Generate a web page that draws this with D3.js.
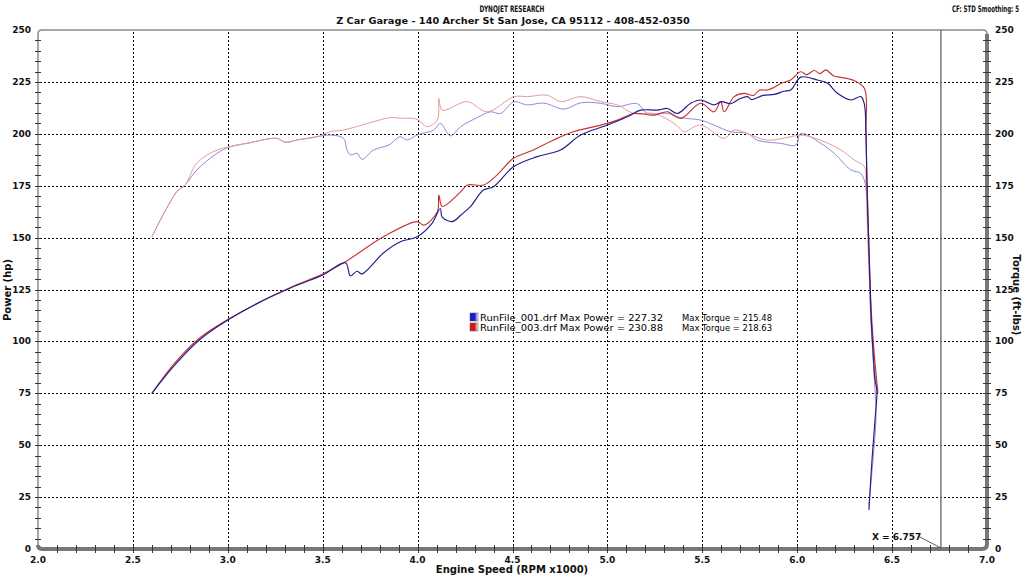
<!DOCTYPE html>
<html><head><meta charset="utf-8">
<script src="https://cdn.jsdelivr.net/npm/d3@7"></script>
<style>body{margin:0;background:#fff}svg{display:block}</style>
</head><body>
<svg id="c" width="1024" height="575"></svg>
<script>
// ---- data ----
const xTickLabels = [2.0,2.5,3.0,3.5,4.0,4.5,5.0,5.5,6.0,6.5,7.0];
const yTickLabels = [0,25,50,75,100,125,150,175,200,225,250];
const cursorRpm = 6.757;

const p1Rpm = [2.60,2.72,2.85,3.00,3.17,3.33,3.50,3.62,3.646,3.681,3.707,3.82,3.909,3.997,4.076,4.12,4.129,4.182,4.23,4.278,4.347,4.40,4.505,4.63,4.753,4.859,5.00,5.105,5.175,5.263,5.316,5.369,5.439,5.492,5.562,5.60,5.65,5.70,5.738,5.76,5.82,5.88,5.93,5.966,6.019,6.107,6.16,6.212,6.283,6.335,6.353,6.362,6.367,6.378,6.388,6.399,6.41,6.42,6.41,6.394,6.378];
const p1Hp  = [75,88.6,100.7,110.3,119,125.7,132,137.9,131.5,133.8,132.5,142.6,148,150.4,156.9,164,160,157.7,161,164.9,172.9,174.5,184.1,189,192.2,199.4,204.2,208.2,211.4,211.4,212.2,209.8,214.7,216.3,213.9,215.5,214.5,217,217.9,216.5,218.5,219,220.5,221.1,227.3,225.9,224.3,219.5,216.3,217.9,214.7,201.8,177.7,144,115.1,95.9,81.4,76.6,62.1,42.9,18.8];

const p3Rpm = [2.60,2.72,2.85,3.00,3.17,3.33,3.50,3.62,3.82,3.997,4.033,4.104,4.112,4.13,4.226,4.262,4.348,4.419,4.505,4.61,4.716,4.821,4.965,5.053,5.139,5.245,5.316,5.386,5.492,5.562,5.597,5.615,5.668,5.72,5.77,5.80,5.843,5.87,5.92,5.966,6.019,6.05,6.09,6.12,6.151,6.19,6.23,6.27,6.301,6.354,6.362,6.37,6.38,6.39,6.405,6.42,6.425];
const p3Hp  = [75,89.5,101.5,110.5,119,126,132.5,138.4,150.4,157.7,156,162.5,170.5,165,172,175.3,175.3,180.2,188.2,192.2,197,201,204.2,206.6,209.8,209,210.6,207.4,214.7,210.6,215.5,210.6,217.9,219.5,218.5,221,221.1,222,224.5,225.9,229.9,228.5,230.5,229,230.8,228,227.2,226.5,225.6,221.9,200,170,140,115,95,80,75];

const t1Rpm = [2.60,2.732,2.775,2.837,2.943,3.013,3.101,3.259,3.303,3.364,3.47,3.54,3.61,3.628,3.646,3.681,3.707,3.768,3.848,3.909,3.945,3.997,4.085,4.12,4.173,4.226,4.314,4.384,4.437,4.507,4.578,4.665,4.771,4.859,4.964,5.052,5.158,5.21,5.316,5.386,5.492,5.562,5.65,5.738,5.791,5.913,5.993,6.019,6.124,6.195,6.283,6.335,6.362,6.367,6.378,6.388,6.404,6.415,6.399,6.378];
const t1Tq  = [150.4,172.2,175.3,182.6,190.6,193.8,195.4,197.8,195.9,197,198.6,199.4,197.8,192.2,189.8,190.6,187.7,192.2,194.6,198.6,197,199.4,201.8,205,199,203.4,207.8,210.6,209.8,215.4,213.9,214.8,211.9,214.9,214.7,213.1,214.5,209.8,209.8,207.8,206.6,204.2,201,200.2,196.9,195.4,194.6,200.2,195.4,190.6,182.6,180.9,174.5,168,139,110,86,63.6,42.9,21];

const t3Rpm = [2.60,2.732,2.775,2.837,2.943,3.013,3.101,3.259,3.303,3.364,3.47,3.54,3.61,3.752,3.857,3.909,3.997,4.033,4.05,4.104,4.112,4.13,4.262,4.367,4.508,4.578,4.683,4.753,4.859,4.964,5.052,5.139,5.245,5.351,5.386,5.404,5.492,5.615,5.668,5.756,5.843,5.966,6.019,6.124,6.23,6.301,6.354,6.362,6.37,6.38,6.39,6.405,6.42];
const t3Tq  = [150.4,172.2,175.3,185.9,192.2,193.8,195.4,197.8,195.9,197,198.6,201,201.8,205.4,207.8,207.5,207,204.2,203.4,206.6,217,211.4,215.5,210.6,217.9,217.9,218.6,215.5,217.9,215.5,213.9,209.8,209.8,205,202.2,201,204.2,197.8,201.8,199.4,196.9,198.6,199.4,196.9,192.2,187.4,184.1,175,155,130,110,90,75];

const legendRows = [
  {file:"RunFile_001.drf", power:"227.32", torque:"215.48", c1:"#1a1ad0"},
  {file:"RunFile_003.drf", power:"230.88", torque:"218.63", c1:"#d01a1a"}
];

// ---- drawing ----
const svg = d3.select("#c");
const X0 = 38, X1 = 987, Y0 = 549, Y1 = 30;
const x = d3.scaleLinear().domain([2,7]).range([X0,X1]);
const y = d3.scaleLinear().domain([0,250]).range([Y0,Y1]);
const FONT = "'DejaVu Sans', Verdana, sans-serif";
const NARROW = "'DejaVu Sans Condensed', 'Liberation Sans Narrow', sans-serif";

// grid
const grid = svg.append("g").attr("stroke","#000").attr("stroke-width",1).attr("stroke-dasharray","2,2");
xTickLabels.filter(v=>v>2&&v<7).forEach(v=>{
  grid.append("line").attr("x1",Math.round(x(v))+0.5).attr("x2",Math.round(x(v))+0.5).attr("y1",Y1+2).attr("y2",Y0-2);
});
yTickLabels.filter(v=>v>0&&v<250).forEach(v=>{
  grid.append("line").attr("y1",Math.round(y(v))+0.5).attr("y2",Math.round(y(v))+0.5).attr("x1",X0+2).attr("x2",X1-2);
});

// frame: thin top/left rounded, thick bottom/right
svg.append("path")
  .attr("d",`M${X0},${Y0-4} L${X0},${Y1+4} Q${X0},${Y1} ${X0+4},${Y1} L${X1-4},${Y1} Q${X1},${Y1} ${X1},${Y1+4}`)
  .attr("fill","none").attr("stroke","#8a8a8a").attr("stroke-width",1.5);
svg.append("path")
  .attr("d",`M${X0},${Y0-4} Q${X0},${Y0} ${X0+5},${Y0} L${X1-5},${Y0} Q${X1},${Y0} ${X1},${Y0-5} L${X1},${Y1+4}`)
  .attr("fill","none").attr("stroke","#777").attr("stroke-width",4);

// cursor line
svg.append("line").attr("x1",x(cursorRpm)).attr("x2",x(cursorRpm)).attr("y1",Y1).attr("y2",Y0)
  .attr("stroke","#777").attr("stroke-width",1.5);

// minor ticks
const tk = svg.append("g").attr("stroke","#333").attr("stroke-width",1);
d3.range(1,50).forEach(i=>{
  const xv = Math.round(x(2+i*0.1))+0.5;
  tk.append("line").attr("x1",xv).attr("x2",xv).attr("y1",Y0-4).attr("y2",Y0+4);
});
d3.range(1,50).forEach(i=>{
  const yv = Math.round(y(i*5))+0.5;
  tk.append("line").attr("x1",X0-3).attr("x2",X0+3).attr("y1",yv).attr("y2",yv);
  tk.append("line").attr("x1",X1-4).attr("x2",X1+4).attr("y1",yv).attr("y2",yv);
});

// tick labels
const lab = svg.append("g").attr("font-family",FONT).attr("font-size",9).attr("font-weight","bold").attr("fill","#111");
yTickLabels.forEach(v=>{
  lab.append("text").attr("x",31).attr("y",y(v)+3).attr("text-anchor","end").text(v);
  lab.append("text").attr("x",995).attr("y",y(v)+3).attr("text-anchor","start").text(v);
});
xTickLabels.forEach(v=>{
  lab.append("text").attr("x",x(v)).attr("y",563).attr("text-anchor","middle").text(v.toFixed(1));
});

// axis titles
svg.append("text").attr("transform","translate(11,290) rotate(-90)").attr("text-anchor","middle")
  .attr("font-family",FONT).attr("font-size",10).attr("font-weight","bold").attr("fill","#111").text("Power (hp)");
svg.append("text").attr("transform","translate(1013,295) rotate(90)").attr("text-anchor","middle")
  .attr("font-family",FONT).attr("font-size",10).attr("font-weight","bold").attr("fill","#111").text("Torque (ft-lbs)");
svg.append("text").attr("x",512).attr("y",573).attr("text-anchor","middle")
  .attr("font-family",FONT).attr("font-size",10).attr("font-weight","bold").attr("fill","#111").text("Engine Speed (RPM x1000)");

// titles (horizontally squeezed to mimic the narrow dyno font)
function narrowText(txt, cx, cy, width, anchor){
  const t = svg.append("text").attr("font-family",NARROW).attr("font-weight","bold")
    .attr("font-size",9).attr("fill","#111").attr("text-anchor",anchor).text(txt);
  const w = t.node().getComputedTextLength();
  const s = width / w;
  t.attr("transform",`translate(${cx},${cy}) scale(${s},1)`);
}
narrowText("DYNOJET RESEARCH", 512, 12, 65, "middle");
narrowText("Z Car Garage - 140 Archer St San Jose, CA 95112 - 408-452-0350", 513, 24, 354, "middle");
narrowText("CF: STD  Smoothing: 5", 1019, 12, 67, "end");

// series
const line = d3.line().x(d=>x(d[0])).y(d=>y(d[1])).curve(d3.curveCatmullRom.alpha(0.5));
const zip = (a,b)=>a.map((v,i)=>[v,b[i]]);
const series = [
  {r:t1Rpm, v:t1Tq, c:"#8c8cdc", w:1},
  {r:t3Rpm, v:t3Tq, c:"#e89a9a", w:1},
  {r:p3Rpm, v:p3Hp, c:"#c83232", w:1.15},
  {r:p1Rpm, v:p1Hp, c:"#1e1e8c", w:1.15}
];
series.forEach(s=>{
  svg.append("path").datum(zip(s.r,s.v)).attr("d",line).attr("fill","none")
    .attr("stroke",s.c).attr("stroke-width",s.w).attr("stroke-linejoin","round");
});

// legend
const defs = svg.append("defs");
legendRows.forEach((r,i)=>{
  const g = defs.append("linearGradient").attr("id","lg"+i).attr("x1","0").attr("x2","1").attr("y1","0").attr("y2","0");
  g.append("stop").attr("offset","0").attr("stop-color",r.c1);
  g.append("stop").attr("offset","0.6").attr("stop-color",r.c1);
  g.append("stop").attr("offset","1").attr("stop-color","#fff");
  const yy = 313 + i*10;
  svg.append("rect").attr("x",470).attr("y",yy).attr("width",8).attr("height",8).attr("fill","url(#lg"+i+")").attr("stroke","#555").attr("stroke-width",0.5);
  svg.append("text").attr("x",480).attr("y",yy+7.5).attr("font-family",FONT).attr("font-size",9.5).attr("fill","#000")
    .attr("textLength",183).attr("lengthAdjust","spacingAndGlyphs")
    .text(`${r.file} Max Power = ${r.power}`);
  svg.append("text").attr("x",682).attr("y",yy+7.5).attr("font-family",FONT).attr("font-size",9.5).attr("fill","#000")
    .attr("textLength",90).attr("lengthAdjust","spacingAndGlyphs")
    .text(`Max Torque = ${r.torque}`);
});

// cursor label
svg.append("text").attr("x",872).attr("y",540).attr("font-family",FONT).attr("font-size",9).attr("font-weight","bold").attr("fill","#111")
  .text("X = " + cursorRpm.toFixed(3));
svg.append("line").attr("x1",918).attr("y1",536).attr("x2",x(cursorRpm)).attr("y2",Y0-1).attr("stroke","#333").attr("stroke-width",0.8);
</script>
</body></html>
